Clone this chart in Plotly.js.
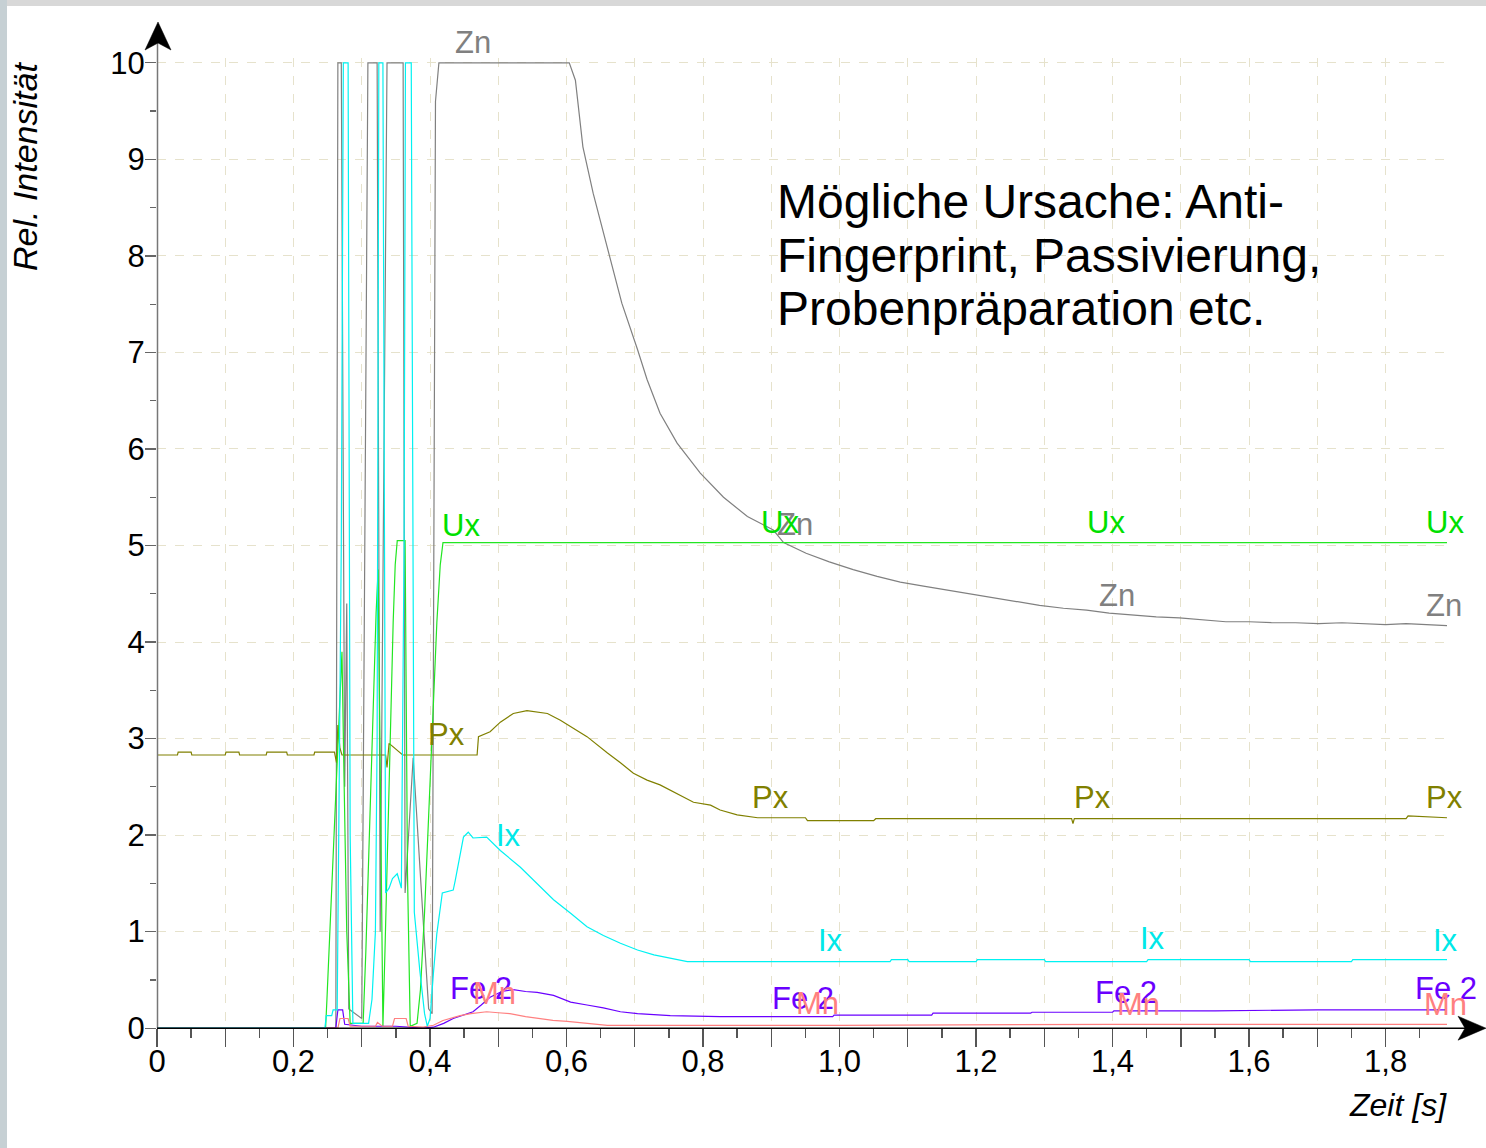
<!DOCTYPE html>
<html><head><meta charset="utf-8">
<script src="https://cdn.plot.ly/plotly-3.0.1.min.js"></script>
<style>html,body{margin:0;padding:0;background:#fff;overflow:hidden}#chart{width:1486px;height:1148px}</style>
</head><body><div id="chart"></div>
<script>
// ---------------- data ----------------
const znT = [0, 0.262, 0.265, 0.270, 0.275, 0.278, 0.281, 0.300, 0.309, 0.3225, 0.327, 0.337, 0.3606, 0.3635, 0.3753, 0.398, 0.4031, 0.408, 0.413, 0.604, 0.613, 0.624, 0.639, 0.664, 0.681, 0.704, 0.718, 0.737, 0.762, 0.796, 0.830, 0.865, 0.903, 0.918, 0.951, 0.985, 1.020, 1.055, 1.089, 1.123, 1.157, 1.191, 1.225, 1.259, 1.293, 1.328, 1.362, 1.395, 1.429, 1.464, 1.498, 1.532, 1.566, 1.600, 1.634, 1.668, 1.702, 1.736, 1.771, 1.800, 1.830, 1.860, 1.890];
const znV = [0, 0, 10, 10, 2.5, 4.4, 0.2, 0.1, 10, 10, 1.0, 10, 10, 1.4, 2.8, 0.2, 0.15, 9.6, 10, 10, 9.82, 9.13, 8.65, 7.96, 7.51, 7.03, 6.72, 6.37, 6.06, 5.75, 5.50, 5.30, 5.16, 5.03, 4.92, 4.83, 4.75, 4.68, 4.62, 4.58, 4.54, 4.50, 4.46, 4.42, 4.38, 4.35, 4.33, 4.30, 4.28, 4.26, 4.25, 4.23, 4.21, 4.21, 4.20, 4.20, 4.19, 4.20, 4.19, 4.18, 4.19, 4.18, 4.17];

const uxT = [0, 0.247, 0.249, 0.252, 0.256, 0.259, 0.263, 0.267, 0.271, 0.274, 0.278, 0.283, 0.302, 0.306, 0.310, 0.314, 0.318, 0.321, 0.324, 0.328, 0.331, 0.334, 0.338, 0.342, 0.346, 0.349, 0.352, 0.3635, 0.367, 0.371, 0.381, 0.386, 0.392, 0.398, 0.404, 0.410, 0.415, 0.419, 1.890];
const uxV = [0, 0, 0.3, 0.8, 1.4, 2.0, 2.6, 3.4, 3.9, 2.6, 1.0, 0.05, 0.05, 0.8, 1.8, 2.8, 3.7, 4.3, 4.75, 2.2, 0.02, 0.8, 2.0, 3.2, 4.2, 4.8, 5.05, 5.05, 1.6, 0.02, 0.05, 0.4, 1.2, 2.2, 3.2, 4.2, 4.8, 5.03, 5.03];

const pxT = [0, 0.03, 0.031, 0.05, 0.051, 0.10, 0.101, 0.12, 0.121, 0.16, 0.161, 0.19, 0.191, 0.23, 0.231, 0.26, 0.263, 0.265, 0.268, 0.271, 0.30, 0.335, 0.337, 0.340, 0.36, 0.469, 0.471, 0.488, 0.503, 0.522, 0.542, 0.572, 0.591, 0.610, 0.630, 0.660, 0.679, 0.698, 0.718, 0.737, 0.767, 0.786, 0.811, 0.825, 0.85, 0.88, 0.95, 0.953, 1.05, 1.053, 1.34, 1.342, 1.344, 1.83, 1.833, 1.89];
const pxV = [2.83, 2.83, 2.86, 2.86, 2.83, 2.83, 2.86, 2.86, 2.83, 2.83, 2.86, 2.86, 2.83, 2.83, 2.86, 2.86, 2.75, 3.14, 2.90, 2.83, 2.83, 2.83, 2.70, 2.95, 2.83, 2.83, 3.02, 3.07, 3.17, 3.26, 3.29, 3.26, 3.19, 3.11, 3.02, 2.85, 2.75, 2.64, 2.57, 2.52, 2.41, 2.34, 2.31, 2.26, 2.21, 2.18, 2.18, 2.15, 2.15, 2.17, 2.17, 2.12, 2.17, 2.17, 2.20, 2.18];

const ixT = [0, 0.246, 0.248, 0.256, 0.258, 0.264, 0.270, 0.273, 0.280, 0.283, 0.287, 0.310, 0.315, 0.320, 0.3225, 0.325, 0.331, 0.335, 0.340, 0.345, 0.352, 0.358, 0.362, 0.364, 0.3725, 0.377, 0.385, 0.392, 0.396, 0.400, 0.405, 0.410, 0.418, 0.434, 0.437, 0.444, 0.449, 0.456, 0.463, 0.483, 0.503, 0.532, 0.557, 0.581, 0.606, 0.630, 0.654, 0.679, 0.704, 0.728, 0.777, 1.074, 1.076, 1.10, 1.102, 1.20, 1.202, 1.30, 1.302, 1.45, 1.452, 1.60, 1.602, 1.75, 1.752, 1.89];
const ixV = [0, 0, 0.13, 0.13, 0.19, 0.19, 5, 10, 10, 2, 0.05, 0.05, 0.3, 1.0, 3, 10, 10, 1.40, 1.45, 1.55, 1.60, 1.45, 5, 10, 10, 1.2, 0.6, 0.15, 0.02, 0.1, 0.57, 0.98, 1.40, 1.43, 1.53, 1.81, 1.98, 2.03, 1.97, 1.98, 1.84, 1.67, 1.50, 1.33, 1.19, 1.05, 0.96, 0.88, 0.81, 0.76, 0.69, 0.69, 0.71, 0.71, 0.69, 0.69, 0.71, 0.71, 0.69, 0.69, 0.71, 0.71, 0.69, 0.69, 0.71, 0.71];

const feT = [0, 0.262, 0.265, 0.272, 0.275, 0.30, 0.35, 0.39, 0.405, 0.420, 0.434, 0.450, 0.463, 0.475, 0.488, 0.505, 0.522, 0.540, 0.557, 0.581, 0.606, 0.630, 0.654, 0.679, 0.704, 0.752, 0.825, 0.99, 0.992, 1.135, 1.137, 1.28, 1.282, 1.40, 1.402, 1.55, 1.70, 1.89];
const feV = [0, 0, 0.19, 0.19, 0.04, 0.02, 0.02, 0.0, 0.01, 0.05, 0.10, 0.14, 0.17, 0.24, 0.32, 0.38, 0.40, 0.38, 0.37, 0.34, 0.27, 0.24, 0.21, 0.17, 0.15, 0.13, 0.12, 0.12, 0.135, 0.135, 0.155, 0.155, 0.165, 0.165, 0.18, 0.18, 0.19, 0.19];

const mnT = [0, 0.265, 0.268, 0.28, 0.283, 0.30, 0.32, 0.323, 0.33, 0.345, 0.348, 0.365, 0.368, 0.39, 0.405, 0.419, 0.432, 0.444, 0.46, 0.483, 0.50, 0.517, 0.54, 0.561, 0.58, 0.601, 0.63, 0.66, 1.0, 1.40, 1.89];
const mnV = [0, 0, 0.1, 0.1, 0.02, 0.02, 0.02, 0.06, 0.02, 0.02, 0.1, 0.1, 0.02, 0.01, 0.03, 0.08, 0.11, 0.13, 0.15, 0.17, 0.16, 0.15, 0.12, 0.10, 0.08, 0.07, 0.05, 0.03, 0.03, 0.04, 0.04];

const xTickVals = [0, 0.1, 0.2, 0.3, 0.4, 0.5, 0.6, 0.7, 0.8, 0.9, 1.0, 1.1, 1.2, 1.3, 1.4, 1.5, 1.6, 1.7, 1.8];
const xTickText = ['0', '', '0,2', '', '0,4', '', '0,6', '', '0,8', '', '1,0', '', '1,2', '', '1,4', '', '1,6', '', '1,8'];

const noteLines = ['Mögliche Ursache: Anti-', 'Fingerprint, Passivierung,', 'Probenpräparation etc.'];
const yTitle = 'Rel. Intensität';
const xTitle = 'Zeit [s]';

// ---------------- layout helpers ----------------
const FONT = 'Liberation Sans, Arial, Helvetica, sans-serif';
const W = 1486, H = 1148, L = 157, R = 39, T = 58, B = 115;
const PW = W - L - R, PH = H - T - B;
const fx = px => (px - L) / PW;
const fy = py => (H - B - py) / PH;

const C = {zn: '#808080', ux: '#22e622', px: '#808000', ix: '#00f2f2', fe: '#6a00ff', mn: '#ff8080'};
const CT = {zn: '#808080', ux: '#00e000', px: '#808000', ix: '#00e8e8', fe: '#6a00ff', mn: '#ff8080'};

function tr(x, y, c) {
  return {type: 'scatter', mode: 'lines', x: x, y: y, line: {color: c, width: 1.2}, hoverinfo: 'skip', showlegend: false};
}
const data = [
  tr(znT, znV, C.zn), tr(pxT, pxV, C.px), tr(uxT, uxV, C.ux),
  tr(feT, feV, C.fe), tr(mnT, mnV, C.mn), tr(ixT, ixV, C.ix)
];

function lab(text, x, y, col, extra) {
  return Object.assign({text: text, x: x, y: y, xref: 'x', yref: 'y', showarrow: false,
    xanchor: 'center', yanchor: 'middle', font: {family: FONT, size: 31, color: col}}, extra || {});
}
const anns = [
  lab('Zn', 0.463, 10, CT.zn, {yshift: 20}),
  lab('Zn', 0.935, 5.22, CT.zn), lab('Zn', 1.407, 4.48, CT.zn), lab('Zn', 1.886, 4.38, CT.zn),
  lab('Ux', 0.446, 5.21, CT.ux), lab('Ux', 0.913, 5.24, CT.ux), lab('Ux', 1.391, 5.24, CT.ux), lab('Ux', 1.887, 5.24, CT.ux),
  lab('Px', 0.424, 3.04, CT.px), lab('Px', 0.899, 2.39, CT.px), lab('Px', 1.371, 2.39, CT.px), lab('Px', 1.886, 2.39, CT.px),
  lab('Ix', 0.515, 2.00, CT.ix), lab('Ix', 0.987, 0.91, CT.ix), lab('Ix', 1.459, 0.93, CT.ix), lab('Ix', 1.888, 0.91, CT.ix),
  lab('Fe 2', 0.475, 0.41, CT.fe), lab('Fe 2', 0.947, 0.31, CT.fe), lab('Fe 2', 1.419, 0.37, CT.fe), lab('Fe 2', 1.888, 0.41, CT.fe),
  lab('Mn', 0.494, 0.36, CT.mn), lab('Mn', 0.967, 0.26, CT.mn), lab('Mn', 1.438, 0.25, CT.mn), lab('Mn', 1.888, 0.25, CT.mn)
];
const noteY = [8.56, 8.00, 7.45];
noteLines.forEach((t, i) => anns.push({text: t, x: 0.906, y: noteY[i], xref: 'x', yref: 'y', showarrow: false,
  xanchor: 'left', yanchor: 'middle', font: {family: FONT, size: 48, color: '#000'}}));
anns.push({text: yTitle, xref: 'paper', yref: 'paper', x: fx(25), y: fy(167), showarrow: false, textangle: -90,
  xanchor: 'center', yanchor: 'middle', font: {family: FONT, size: 34, color: '#000', style: 'italic'}});
anns.push({text: xTitle, xref: 'paper', yref: 'paper', x: fx(1449), y: fy(1105), showarrow: false,
  xanchor: 'right', yanchor: 'middle', font: {family: FONT, size: 32, color: '#000', style: 'italic'}});

const shapes = [
  // slide frame strips
  {type: 'rect', xref: 'paper', yref: 'paper', x0: fx(0), x1: fx(W), y0: fy(0), y1: fy(6), fillcolor: '#d8d8d8', line: {width: 0}, layer: 'below'},
  {type: 'rect', xref: 'paper', yref: 'paper', x0: fx(0), x1: fx(7), y0: fy(0), y1: fy(H), fillcolor: '#c6d0d4', line: {width: 0}, layer: 'below'},
  // axis lines
  {type: 'line', xref: 'paper', yref: 'paper', x0: fx(157.5), x1: fx(157.5), y0: fy(1028.2), y1: fy(40), line: {color: '#777', width: 1.5}},
  {type: 'line', xref: 'paper', yref: 'paper', x0: fx(157), x1: fx(1468), y0: fy(1028.2), y1: fy(1028.2), line: {color: '#000', width: 1.5}},
  // arrow heads
  {type: 'path', xref: 'paper', yref: 'paper', xsizemode: 'pixel', ysizemode: 'pixel', xanchor: fx(158), yanchor: fy(22),
    path: 'M0,0 L-13,-28 L0,-21 L13,-28 Z', fillcolor: '#000', line: {color: '#000', width: 0.5}},
  {type: 'path', xref: 'paper', yref: 'paper', xsizemode: 'pixel', ysizemode: 'pixel', xanchor: fx(1486), yanchor: fy(1028.2),
    path: 'M0,0 L-28,12 L-21,0 L-28,-12 Z', fillcolor: '#000', line: {color: '#000', width: 0.5}}
];

const layout = {
  width: W, height: H, margin: {l: L, r: R, t: T, b: B, pad: 0},
  paper_bgcolor: '#fff', plot_bgcolor: '#fff', showlegend: false,
  font: {family: FONT, color: '#000'},
  xaxis: {range: [0, 1.89], anchor: 'free', position: 0.05 / 10.1, tickmode: 'array', tickvals: xTickVals, ticktext: xTickText,
    ticks: 'outside', ticklen: 18, tickwidth: 1.4, tickcolor: '#555', showgrid: true, gridcolor: '#e6e2cc', griddash: 'dash', gridwidth: 1,
    zeroline: false, showline: false, tickfont: {family: FONT, size: 31, color: '#000'}, ticklabelstandoff: -12,
    minor: {dtick: 0.05, tick0: 0, ticks: 'outside', ticklen: 9, tickwidth: 1.4, tickcolor: '#555', showgrid: false}},
  yaxis: {range: [-0.05, 10.05], tickmode: 'linear', tick0: 0, dtick: 1, ticks: 'outside', ticklen: 11, tickwidth: 1.3, tickcolor: '#666',
    showgrid: true, gridcolor: '#e6e2cc', griddash: 'dash', gridwidth: 1, zeroline: false, showline: false,
    tickfont: {family: FONT, size: 31, color: '#000'}, ticklabelstandoff: -6,
    minor: {dtick: 0.5, tick0: 0, ticks: 'outside', ticklen: 6, tickwidth: 1.3, tickcolor: '#666', showgrid: false}},
  annotations: anns, shapes: shapes
};
Plotly.newPlot('chart', data, layout, {staticPlot: true, displayModeBar: false});
</script></body></html>
